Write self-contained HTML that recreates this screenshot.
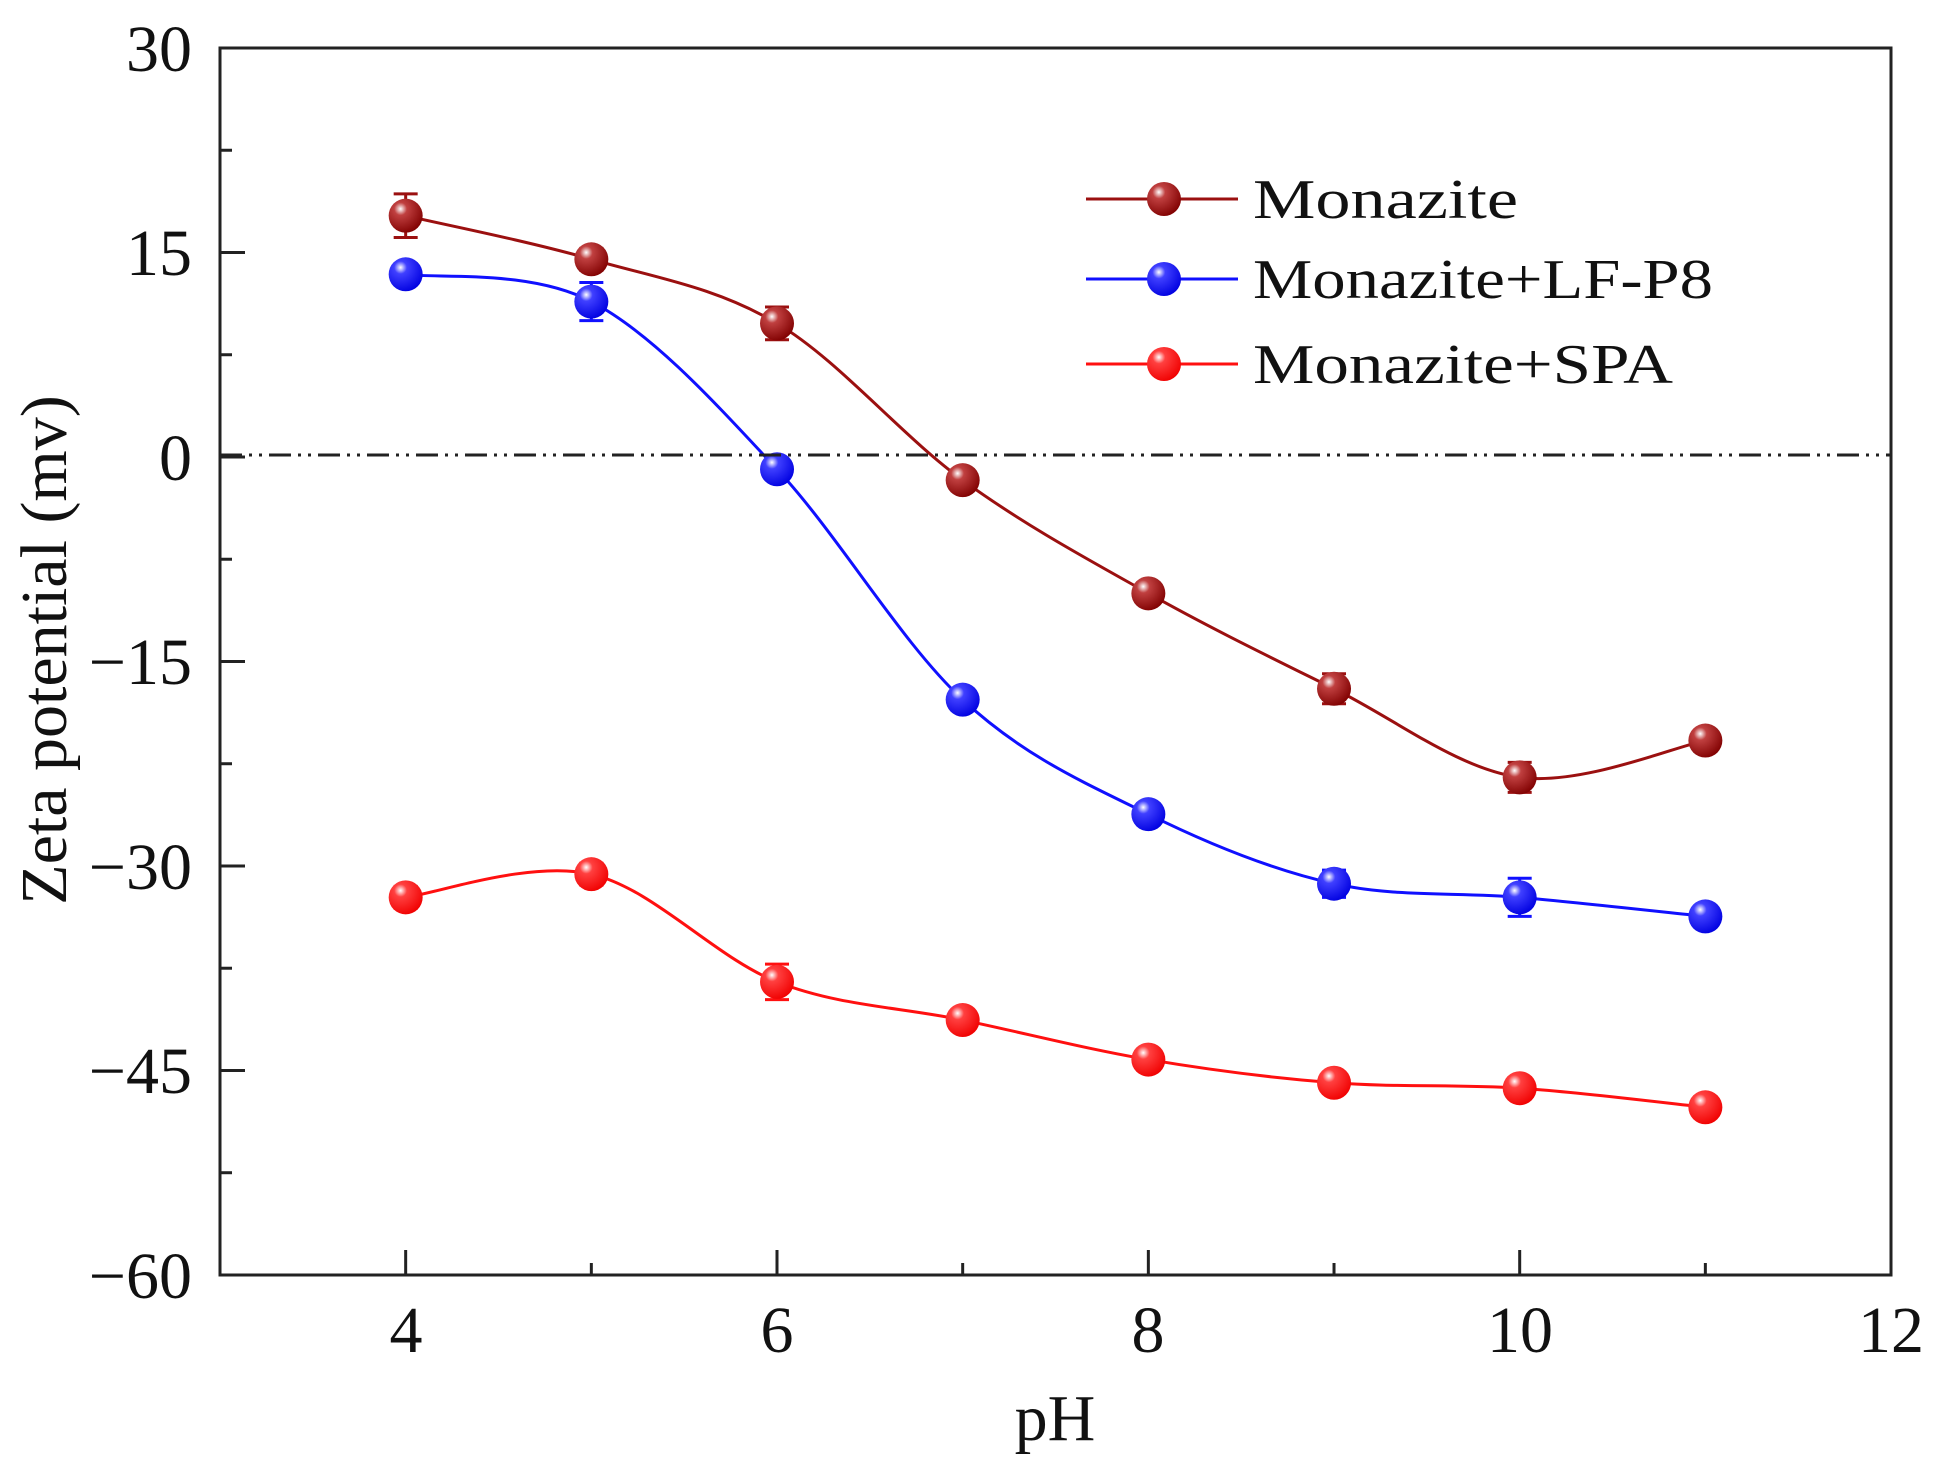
<!DOCTYPE html>
<html><head><meta charset="utf-8"><style>
html,body{margin:0;padding:0;background:#fff;}
svg{display:block;}
text{font-family:"Liberation Serif",serif;fill:#111;}
</style></head><body>
<svg id="s" width="1940" height="1476" viewBox="0 0 1940 1476" xmlns="http://www.w3.org/2000/svg">
<defs>
<radialGradient id="g0" cx="0.35" cy="0.3" r="0.75"><stop offset="0" stop-color="#fff"/><stop offset="0.25" stop-color="#c04040"/><stop offset="1" stop-color="#800000"/></radialGradient>
<radialGradient id="g1" cx="0.35" cy="0.3" r="0.75"><stop offset="0" stop-color="#fff"/><stop offset="0.25" stop-color="#4040ff"/><stop offset="1" stop-color="#0000e0"/></radialGradient>
<radialGradient id="g2" cx="0.35" cy="0.3" r="0.75"><stop offset="0" stop-color="#fff"/><stop offset="0.25" stop-color="#ff4040"/><stop offset="1" stop-color="#f00000"/></radialGradient>
</defs>
<g id="plot"></g>
<rect x="220" y="48" width="1671" height="1227" fill="none" stroke="#222" stroke-width="3"/>
<line x1="220" y1="455" x2="1891" y2="455" stroke="#222" stroke-width="3" stroke-dasharray="22 7 3 7 3 7"/>
<g font-size="66" text-anchor="end">
<text x="192" y="71">30</text>
<text x="192" y="275">15</text>
<text x="192" y="480">0</text>
<text x="192" y="684">−15</text>
<text x="192" y="889">−30</text>
<text x="192" y="1093">−45</text>
<text x="192" y="1298">−60</text>
</g>
<g font-size="66" text-anchor="middle">
<text x="406" y="1352">4</text>
<text x="777" y="1352">6</text>
<text x="1148" y="1352">8</text>
<text x="1520" y="1352">10</text>
<text x="1891" y="1352">12</text>
<text x="1055" y="1440">pH</text>
<text transform="translate(66,650) rotate(-90)">Zeta potential (mv)</text>
</g>
<g font-size="56">
<text x="1253" y="218" textLength="265" lengthAdjust="spacingAndGlyphs">Monazite</text>
<text x="1253" y="298" textLength="460" lengthAdjust="spacingAndGlyphs">Monazite+LF-P8</text>
<text x="1253" y="383" textLength="420" lengthAdjust="spacingAndGlyphs">Monazite+SPA</text>
</g>
</svg>
<script>
(function(){
var ns="http://www.w3.org/2000/svg",g=document.getElementById('plot');
function X(v){return 220+(v-3)*185.67;}
function Y(v){return 48+(30-v)*13.633;}
function el(t,a){var e=document.createElementNS(ns,t);for(var k in a)e.setAttribute(k,a[k]);g.appendChild(e);return e;}
// ticks
[7.5,15,22.5,0,-7.5,-15,-22.5,-30,-37.5,-45,-52.5].forEach(function(v){var L=(v%15===0)?25:12;el('line',{x1:220,y1:Y(v),x2:220+L,y2:Y(v),stroke:'#222','stroke-width':3});});
[4,5,6,7,8,9,10,11].forEach(function(v){var L=(v%2===0)?25:12;el('line',{x1:X(v),y1:1275,x2:X(v),y2:1275-L,stroke:'#222','stroke-width':3});});
var S=[
{c:'#9b1010',g:'g0',d:[17.7,14.5,9.8,-1.7,-10,-17,-23.5,-20.8],e:[1.6,0.8,1.2,0.6,0.6,1.1,1.1,0.5],ly:199},
{c:'#1010ff',g:'g1',d:[13.4,11.4,-0.9,-17.8,-26.2,-31.3,-32.3,-33.7],e:[0.5,1.4,0.5,0.6,0.6,1.0,1.4,0.5],ly:279},
{c:'#ff1010',g:'g2',d:[-32.3,-30.6,-38.5,-41.3,-44.2,-45.9,-46.3,-47.7],e:[0.8,0.8,1.3,0.6,0.5,0.6,0.5,0.5],ly:364}];
S.forEach(function(s){
 var p=s.d.map(function(v,i){return [X(4+i),Y(v)];});
 var d='M'+p[0][0]+','+p[0][1];
 for(var i=0;i<p.length-1;i++){
  var p0=p[Math.max(0,i-1)],p1=p[i],p2=p[i+1],p3=p[Math.min(p.length-1,i+2)];
  var c1=[p1[0]+(p2[0]-p0[0])/6,p1[1]+(p2[1]-p0[1])/6],c2=[p2[0]-(p3[0]-p1[0])/6,p2[1]-(p3[1]-p1[1])/6];
  d+=' C'+c1+' '+c2+' '+p2;
 }
 el('path',{d:d,fill:'none',stroke:s.c,'stroke-width':3});
 p.forEach(function(q,i){var h=s.e[i]*13.633;
  el('path',{d:'M'+q[0]+','+(q[1]-h)+'V'+(q[1]+h)+'M'+(q[0]-12)+','+(q[1]-h)+'h24M'+(q[0]-12)+','+(q[1]+h)+'h24',stroke:s.c,'stroke-width':3,fill:'none'});
  el('circle',{cx:q[0],cy:q[1],r:17,fill:'url(#'+s.g+')'});
 });
 el('line',{x1:1086,y1:s.ly,x2:1238,y2:s.ly,stroke:s.c,'stroke-width':3});
 el('circle',{cx:1164,cy:s.ly,r:17,fill:'url(#'+s.g+')'});
});
})();
</script>
</body></html>
